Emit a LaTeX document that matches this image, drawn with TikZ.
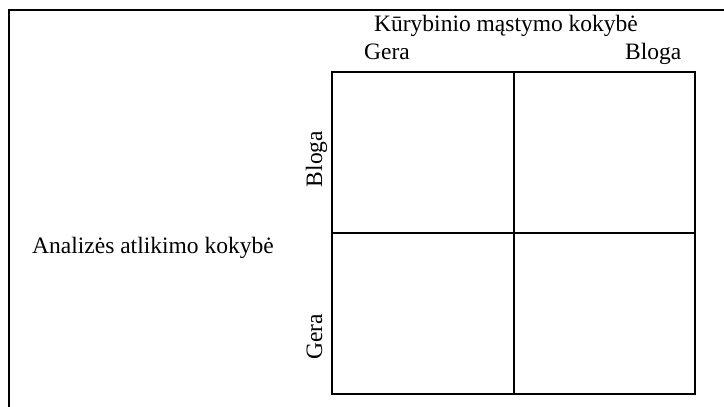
\documentclass[tikz,border=0pt]{standalone}
\usepackage{fontspec}
\setmainfont{Liberation Serif}
\begin{document}
\begin{tikzpicture}[x=1pt,y=-1pt,
  frameline/.style={line width=1.6pt,line cap=rect},
  lbl/.style={inner sep=0pt,font=\fontsize{23.5}{28}\selectfont},
  hlbl/.style={lbl,anchor=base west},
  vlbl/.style={lbl,anchor=base,rotate=90}]
\useasboundingbox (0,0) rectangle (724,407);
\fill[white] (0,0) rectangle (724,407);
% outer partial frame
\coordinate (ob) at (9,407);
\coordinate (otl) at (9,10);
\coordinate (otr) at (724,10);
\draw[line width=1.3pt] (ob) -- (otl) -- (otr);
% grid
\coordinate (g11) at (332,72);
\coordinate (g33) at (695,394);
\coordinate (mt) at (514,72);
\coordinate (mb) at (514,394);
\coordinate (ml) at (332,233);
\coordinate (mr) at (695,233);
\draw[frameline] (g11) rectangle (g33);
\draw[frameline] (mt) -- (mb);
\draw[frameline] (ml) -- (mr);
% labels
\node[hlbl] (title) at (374,31) {Kūrybinio mąstymo kokybė};
\node[hlbl] (gtop) at (364,59) {Gera};
\node[hlbl] (btop) at (625,59) {Bloga};
\node[hlbl] (anal) at (32,253) {Analizės atlikimo kokybė};
\node[vlbl] (bside) at (322,159) {Bloga};
\node[vlbl] (gside) at (322,337) {Gera};
\end{tikzpicture}
\end{document}
